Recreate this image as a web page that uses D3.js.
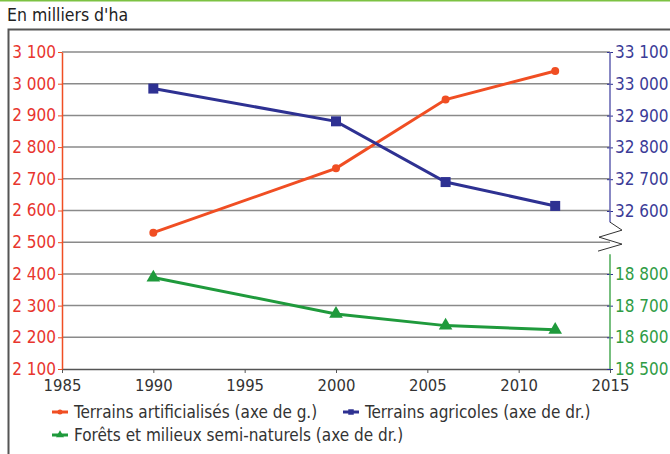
<!DOCTYPE html>
<html><head><meta charset="utf-8">
<script src="https://cdn.jsdelivr.net/npm/d3@7/dist/d3.min.js"></script>
<style>
body{margin:0;background:#fff;}
svg text{font-family:"Liberation Sans Narrow","DejaVu Sans Condensed","Roboto Condensed",sans-serif;}
</style></head>
<body><svg id="c" width="670" height="454"></svg>
<script>
const years = [1990, 2000, 2006, 2012];
const artificialises = [2530, 2733, 2950, 3040];
const agricoles = [32985, 32882, 32691, 32616];
const forets = [18789, 18674, 18637, 18624];
const leftTicks = [2100, 2200, 2300, 2400, 2500, 2600, 2700, 2800, 2900, 3000, 3100];
const blueTicks = [32600, 32700, 32800, 32900, 33000, 33100];
const greenTicks = [18500, 18600, 18700, 18800];
const xTicks = [1985, 1990, 1995, 2000, 2005, 2010, 2015];
const title = "En milliers d'ha";
const legendLabels = ["Terrains artificialisés (axe de g.)", "Terrains agricoles (axe de dr.)", "Forêts et milieux semi-naturels (axe de dr.)"];

const RED = "#f04e23", BLUE = "#2e3192", GREEN = "#1f9a3c";
const REDT = "#e8352e", BLUET = "#3b3b97", GREENT = "#2f9c45";

const svg = d3.select("#c");
const fmt = v => d3.format(",")(v).replace(/,/g, " ");

const x = d3.scaleLinear().domain([1985, 2015]).range([62, 610]);
const yL = d3.scaleLinear().domain([2100, 3100]).range([369, 52]);
const yB = d3.scaleLinear().domain([32600, 33100]).range([211, 52]);
const yG = d3.scaleLinear().domain([18500, 18800]).range([369, 274]);

// top green rule and frame
svg.append("line").attr("x1", 0).attr("x2", 670).attr("y1", 0.5).attr("y2", 0.5).attr("stroke", "#7cc242").attr("stroke-width", 2);
svg.append("text").attr("x", 7).attr("y", 21).attr("font-size", 17.5).attr("fill", "#222").text(title);
svg.append("path").attr("d", "M8.5,454 V29.5 H670").attr("fill", "none").attr("stroke", "#555").attr("stroke-width", 2);

// gridlines
svg.append("g").selectAll("line").data(leftTicks.slice(1)).join("line")
  .attr("x1", x(1985)).attr("x2", x(2015)).attr("y1", d => yL(d)).attr("y2", d => yL(d))
  .attr("stroke", "#8a8a8a").attr("stroke-width", 1.5);

// x axis
const xa = svg.append("g").attr("transform", `translate(0,${yL(2100)})`)
  .call(d3.axisBottom(x).tickValues(xTicks).tickFormat(d3.format("d")).tickSize(4).tickSizeOuter(0));
xa.select(".domain").attr("stroke", "#555").attr("stroke-width", 1.5);
xa.selectAll(".tick line").attr("stroke", "#555");
xa.selectAll("text").attr("font-size", 16.5).attr("fill", "#333").attr("dy", "0.9em");

// left axis
const la = svg.append("g").attr("transform", `translate(${x(1985)},0)`)
  .call(d3.axisLeft(yL).tickValues(leftTicks).tickFormat(fmt).tickSize(4).tickSizeOuter(0).tickPadding(2));
la.select(".domain").attr("stroke", RED).attr("stroke-width", 1.5);
la.selectAll(".tick line").attr("stroke", RED);
la.selectAll("text").attr("font-size", 17).attr("fill", REDT);

// right blue axis (upper part)
const ba = svg.append("g").attr("transform", `translate(${x(2015)},0)`)
  .call(d3.axisRight(yB).tickValues(blueTicks).tickFormat(fmt).tickSize(3).tickSizeOuter(0).tickPadding(2));
ba.select(".domain").remove();
ba.append("line").attr("x1", 0).attr("x2", 0).attr("y1", yB(33100)).attr("y2", yB(32565)).attr("stroke", "#6060b0").attr("stroke-width", 1.5);
ba.selectAll(".tick line").attr("stroke", BLUE).attr("x1", -3);
ba.selectAll("text").attr("font-size", 17).attr("fill", BLUET);

// green axis (lower part)
const ga = svg.append("g").attr("transform", `translate(${x(2015)},0)`)
  .call(d3.axisRight(yG).tickValues(greenTicks).tickFormat(fmt).tickSize(3).tickSizeOuter(0).tickPadding(2));
ga.select(".domain").remove();
ga.append("line").attr("x1", 0).attr("x2", 0).attr("y1", yG(18500)).attr("y2", yG(18862)).attr("stroke", "#4aaa55").attr("stroke-width", 1.5);
ga.selectAll(".tick line").attr("stroke", BLUE).attr("x1", -3);
ga.selectAll("text").attr("font-size", 17).attr("fill", GREENT);

// axis break zigzag
const bx = x(2015), by = yB(32565);
svg.append("path")
  .attr("d", `M${bx},${by} L${bx+12},${by+8} L${bx-11},${by+15} L${bx+12},${by+22} L${bx-12},${by+29}`)
  .attr("fill", "none").attr("stroke", "#333").attr("stroke-width", 1);

// series
function series(vals, y, color, shape, size) {
  const pts = years.map((yr, i) => [x(yr), y(vals[i])]);
  svg.append("path").attr("d", d3.line()(pts)).attr("fill", "none").attr("stroke", color).attr("stroke-width", 3);
  svg.append("g").selectAll("path").data(pts).join("path")
    .attr("transform", d => `translate(${d[0]},${d[1]})`)
    .attr("d", d3.symbol().type(shape).size(size)).attr("fill", color);
}
series(artificialises, yL, RED, d3.symbolCircle, 50);
series(agricoles, yB, BLUE, d3.symbolSquare, 100);
series(forets, yG, GREEN, d3.symbolTriangle, 80);

// legend
const leg = [
  {x: 52, y: 412, c: RED, s: d3.symbolCircle, sz: 20, t: legendLabels[0]},
  {x: 343, y: 412, c: BLUE, s: d3.symbolSquare, sz: 30, t: legendLabels[1]},
  {x: 52, y: 435, c: GREEN, s: d3.symbolTriangle, sz: 28, t: legendLabels[2]}
];
const lg = svg.append("g").selectAll("g").data(leg).join("g").attr("transform", d => `translate(${d.x},${d.y})`);
lg.append("line").attr("x1", 0).attr("x2", 16).attr("stroke", d => d.c).attr("stroke-width", 3);
lg.append("path").attr("transform", "translate(8,0)").attr("d", d => d3.symbol().type(d.s).size(d.sz)()).attr("fill", d => d.c);
lg.append("text").attr("x", 22).attr("dy", "0.35em").attr("font-size", 17).attr("fill", "#333").text(d => d.t);
</script></body></html>
